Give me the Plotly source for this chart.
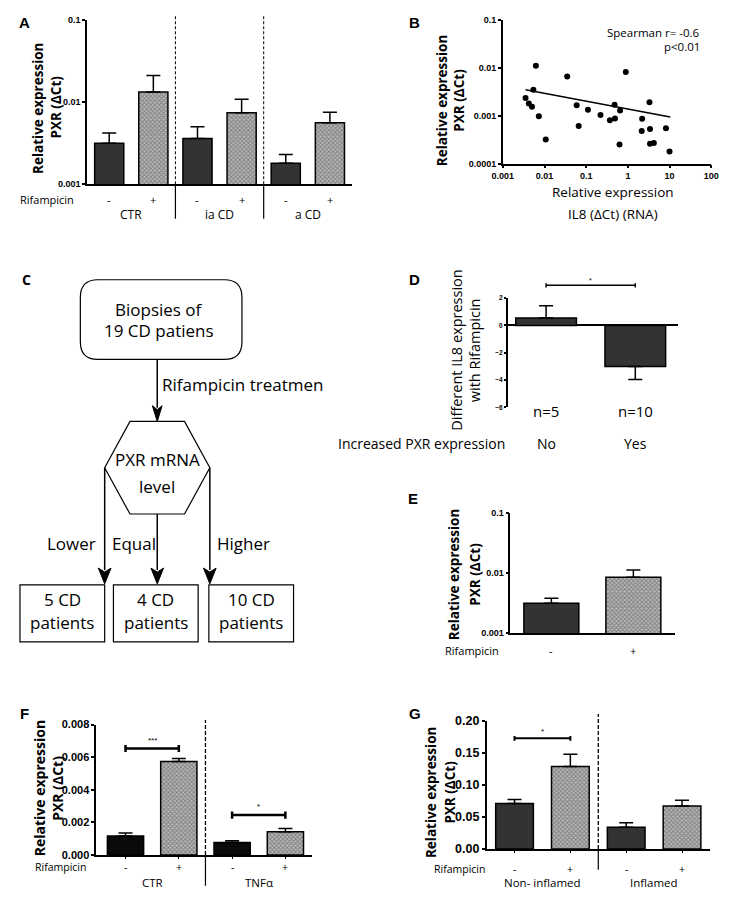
import plotly.graph_objects as go

W, H = 735, 911

# ---------------- data ----------------
rif_levels = ["-", "+"]

# Panel A
a_groups = ["CTR", "ia CD", "a CD"]
a_minus = [0.00315, 0.0036, 0.0018]
a_minus_top = [0.0042, 0.0050, 0.0023]
a_plus = [0.0133, 0.0074, 0.0056]
a_plus_top = [0.021, 0.0108, 0.0075]
log_ticks_3 = [0.001, 0.01, 0.1]
log_ticklabels_3 = ["0.001", "0.01", "0.1"]

# Panel B
b_il8 = [0.0035, 0.0042, 0.005, 0.0054, 0.0062, 0.0073, 0.0107, 0.035, 0.059, 0.066,
         0.11, 0.22, 0.37, 0.48, 0.49, 0.65, 0.63, 0.89, 2.2, 2.15,
         3.3, 3.4, 3.4, 4.2, 8.2, 10.0]
b_pxr = [0.00234, 0.0018, 0.00153, 0.0035, 0.0111, 0.00097, 0.00032, 0.0066, 0.00165, 0.00061,
         0.00134, 0.00103, 0.0008, 0.0017, 0.00087, 0.00128, 0.00025, 0.0082, 0.00086, 0.00048,
         0.0019, 0.00053, 0.00026, 0.00027, 0.00055, 0.00018]
b_fit_x = [0.0035, 10.4]
b_fit_y = [0.0035, 0.00094]
b_xticks = [0.001, 0.01, 0.1, 1, 10, 100]
b_xticklabels = ["0.001", "0.01", "0.1", "1", "10", "100"]
b_yticks = [0.0001, 0.001, 0.01, 0.1]
b_yticklabels = ["0.0001", "0.001", "0.01", "0.1"]
b_stats = ["Spearman r= -0.6", "p<0.01"]

# Panel C (flowchart)
c_start = ["Biopsies of", "19 CD patiens"]
c_step = "Rifampicin treatmen"
c_decision = ["PXR mRNA", "level"]
c_outcomes = ["Lower", "Equal", "Higher"]
c_counts = [5, 4, 10]

# Panel D
d_groups = ["No", "Yes"]
d_n = [5, 10]
d_vals = [0.55, -3.0]
d_sem = [0.89, 0.96]
d_yticks = [-6, -4, -2, 0, 2]

# Panel E
e_vals = [0.00314, 0.0085]
e_top = [0.0038, 0.0112]

# Panel F
f_groups = ["CTR", "TNFα"]
f_minus = [0.00116, 0.00077]
f_minus_top = [0.00135, 0.00088]
f_plus = [0.00574, 0.00143]
f_plus_top = [0.00592, 0.00162]
f_yticks = [0, 0.002, 0.004, 0.006, 0.008]
f_yticklabels = ["0.000", "0.002", "0.004", "0.006", "0.008"]
f_sig = ["***", "*"]

# Panel G
g_groups = ["Non- inflamed", "Inflamed"]
g_minus = [0.0712, 0.0341]
g_minus_top = [0.0772, 0.0411]
g_plus = [0.1288, 0.067]
g_plus_top = [0.148, 0.0763]
g_yticks = [0, 0.05, 0.10, 0.15, 0.20]
g_yticklabels = ["0.00", "0.05", "0.10", "0.15", "0.20"]
g_sig = ["*"]

# ---------------- helpers ----------------
# The page keeps an 8px body margin, so the figure is sized to fit inside the
# window; positions below are window pixels, mapped onto the figure's paper.
OFF = 8
FW, FH = W - 2 * OFF, H - 2 * OFF - 9
Y_SQ0, Y_SQK = 700, 0.914        # squeeze the lowest band so it stays inside the page
SANS = "Open Sans"
ARIAL = "Liberation Sans"
DARK = "#333333"
BLACK = "#0a0a0a"
BAR_LINE = dict(color="black", width=1.5)
PAT_BG = "#b9b9b9"
PATTERN = dict(shape="x", fgcolor="#454545", bgcolor=PAT_BG, size=3, solidity=0.5)


def R(py):
    return py if py <= Y_SQ0 else Y_SQ0 + (py - Y_SQ0) * Y_SQK


def X(px):
    return (px - OFF) / FW


def Y(py):
    return 1 - (R(py) - OFF) / FH


def domx(l, r):
    return [max(0, X(l)), min(1, X(r))]


def domy(t, b):
    return [max(0, Y(b)), min(1, Y(t))]


fig = go.Figure()
shapes = []
anns = []


def bar(xs, vals, tops, ax, patterned, width, color=DARK):
    if patterned:
        marker = dict(color=PAT_BG, line=BAR_LINE, pattern=PATTERN)
    else:
        marker = dict(color=color, line=BAR_LINE)
    up = [t - v for t, v in zip(tops, vals)]
    fig.add_trace(go.Bar(
        x=xs, y=vals, width=width, marker=marker,
        xaxis="x" + ax, yaxis="y" + ax, hoverinfo="skip",
        error_y=dict(type="data", symmetric=False, array=up, arrayminus=[0] * len(vals),
                     color="black", thickness=1.5, width=7),
    ))


def text(t, x, y, size=11, bold=False, xanchor="center", yanchor="middle", angle=0,
         xref="paper", family=SANS):
    anns.append(dict(
        text=t, x=(X(x) if xref == "paper" else x), xref=xref, y=Y(y), yref="paper",
        showarrow=False, xanchor=xanchor, yanchor=yanchor, textangle=angle, borderpad=0,
        font=dict(family=family, size=size, color="black",
                  weight=("bold" if bold else "normal")),
    ))


def vline(x, y0, y1, xref="paper", dash="solid", width=1.2, color="black"):
    shapes.append(dict(type="line", xref=xref, yref="paper",
                       x0=(X(x) if xref == "paper" else x), x1=(X(x) if xref == "paper" else x),
                       y0=Y(y0), y1=Y(y1), line=dict(color=color, width=width, dash=dash)))


def hline(x0, x1, y, xref="paper", width=1.5, color="black"):
    shapes.append(dict(type="line", xref=xref, yref="paper",
                       x0=(X(x0) if xref == "paper" else x0), x1=(X(x1) if xref == "paper" else x1),
                       y0=Y(y), y1=Y(y), line=dict(color=color, width=width)))


def bracket(x0, x1, ypx, half, xref, width):
    hline(x0, x1, ypx, xref=xref, width=width)
    vline(x0, ypx - half, ypx + half, xref=xref, width=width)
    vline(x1, ypx - half, ypx + half, xref=xref, width=width)


def path(cmds):
    shapes.append(dict(type="path", xref="paper", yref="paper", path=cmds,
                       line=dict(color="black", width=1.2), fillcolor="rgba(0,0,0,0)"))


def pt(x, y):
    return f"{X(x):.5f},{Y(y):.5f}"


def arrow(x, y0, y1, hw, hh):
    vline(x, y0, y1 - hh + 2, width=1.5)
    shapes.append(dict(type="path", xref="paper", yref="paper",
                       path=f"M {pt(x, y1)} L {pt(x - hw, y1 - hh)} L {pt(x, y1 - hh + 4)} L {pt(x + hw, y1 - hh)} Z",
                       line=dict(color="black", width=1), fillcolor="black"))


def axstyle(**kw):
    base = dict(showline=True, linecolor="black", linewidth=1.5, showgrid=False, zeroline=False,
                ticks="outside", ticklen=3, tickwidth=1.5, tickcolor="black",
                tickfont=dict(family=ARIAL, size=9, color="black", weight="bold"),
                fixedrange=True)
    base.update(kw)
    return base


def xcat(rng, dom, anchor, tickvals=None):
    return axstyle(range=rng, domain=dom, anchor=anchor, showticklabels=False,
                   tickvals=tickvals if tickvals is not None else [],
                   ticks="outside" if tickvals is not None else "", ticklen=2, tickwidth=1)


layout = {}

# ---------------- Panel A ----------------
a_xm = [2 * i + 0.5 for i in range(len(a_groups))]
a_xp = [2 * i + 1.5 for i in range(len(a_groups))]
bar(a_xm, a_minus, a_minus_top, "", False, 0.66)
bar(a_xp, a_plus, a_plus_top, "", True, 0.66)
layout["xaxis"] = xcat([0, 6], domx(78, 350), "y")
layout["yaxis"] = axstyle(type="log", range=[-3, -1], domain=domy(13, 180), anchor="x",
                          tickvals=log_ticks_3, ticktext=log_ticklabels_3)
for sep in (2, 4):
    vline(sep, 180, 8, xref="x", dash="3px,2px", width=1)
    vline(sep, 180, 215, xref="x", width=1.2)
text("Rifampicin", 37, 195, size=11)
for i, g in enumerate(a_groups):
    text(rif_levels[0], a_xm[i], 195, size=11, xref="x")
    text(rif_levels[1], a_xp[i], 195, size=11, xref="x")
    text(g, 2 * i + 1, 211, size=12, xref="x")
text("Relative expression", 27, 102, size=13.5, bold=True, angle=-90)
text("PXR (ΔCt)", 45, 102, size=13.5, bold=True, angle=-90)
text("A", 14, 16, size=15, bold=True, family=ARIAL)

# ---------------- Panel B ----------------
fig.add_trace(go.Scatter(x=b_il8, y=b_pxr, mode="markers", xaxis="x2", yaxis="y2",
                         marker=dict(color="black", size=6), hoverinfo="skip"))
fig.add_trace(go.Scatter(x=b_fit_x, y=b_fit_y, mode="lines", xaxis="x2", yaxis="y2",
                         line=dict(color="black", width=1.5), hoverinfo="skip"))
layout["xaxis2"] = axstyle(type="log", range=[-3, 2], domain=domx(505, 719), anchor="y2",
                           tickvals=b_xticks, ticktext=b_xticklabels)
layout["yaxis2"] = axstyle(type="log", range=[-4, -1], domain=domy(13, 159), anchor="x2",
                           tickvals=b_yticks, ticktext=b_yticklabels)
text(b_stats[0], 708, 26, size=11.5, xanchor="right")
text(b_stats[1], 708, 40, size=11.5, xanchor="right")
text("Relative expression", 618, 188, size=13.5)
text("IL8 (ΔCt) (RNA)", 618, 210, size=13.5)
text("Relative expression", 442, 95, size=13.5, bold=True, angle=-90)
text("PXR (ΔCt)", 460, 95, size=13.5, bold=True, angle=-90)
text("B", 414, 16, size=15, bold=True, family=ARIAL)

# ---------------- Panel C (flowchart) ----------------
x0, x1, y0, y1, r = 71, 237, 277, 358, 18
path(f"M {pt(x0 + r, y0)} L {pt(x1 - r, y0)} Q {pt(x1, y0)} {pt(x1, y0 + r)} "
     f"L {pt(x1, y1 - r)} Q {pt(x1, y1)} {pt(x1 - r, y1)} L {pt(x0 + r, y1)} "
     f"Q {pt(x0, y1)} {pt(x0, y1 - r)} L {pt(x0, y0 + r)} Q {pt(x0, y0)} {pt(x0 + r, y0)} Z")
text(c_start[0], 152, 307, size=17)
text(c_start[1], 152, 329, size=17)
arrow(150, 358, 421, 5, 16)
text(c_step, 154, 383, size=17, xanchor="left")
hexl, hexr, hxt, hxb = 96, 204, 421, 515
path(f"M {pt(122, hxt)} L {pt(178, hxt)} L {pt(hexr, 468)} L {pt(178, hxb)} "
     f"L {pt(122, hxb)} L {pt(hexl, 468)} Z")
text(c_decision[0], 150, 460, size=17)
text(c_decision[1], 150, 487, size=17)
arrow(hexl, 468, 586, 6.5, 16)
arrow(150, hxb, 586, 6.5, 16)
arrow(hexr, 468, 586, 6.5, 16)
text(c_outcomes[0], 62, 545, size=17)
text(c_outcomes[1], 102, 545, size=17, xanchor="left")
text(c_outcomes[2], 239, 545, size=17)
boxes = [(9, 96), (105, 192), (203, 290)]
for (bx0, bx1), n in zip(boxes, c_counts):
    shapes.append(dict(type="rect", xref="paper", yref="paper", x0=X(bx0), x1=X(bx1),
                       y0=Y(645), y1=Y(587), line=dict(color="black", width=1.2)))
    text(f"{n} CD", (bx0 + bx1) / 2, 602, size=17)
    text("patients", (bx0 + bx1) / 2, 625, size=17)
text("C", 16, 277, size=14, bold=True)

# ---------------- Panel D ----------------
d_x = list(range(len(d_groups)))
fig.add_trace(go.Bar(
    x=d_x, y=d_vals, width=0.68, marker=dict(color=DARK, line=BAR_LINE),
    xaxis="x3", yaxis="y3", hoverinfo="skip",
    error_y=dict(type="data", symmetric=False,
                 array=[s if v > 0 else 0 for v, s in zip(d_vals, d_sem)],
                 arrayminus=[s if v < 0 else 0 for v, s in zip(d_vals, d_sem)],
                 color="black", thickness=1.5, width=7),
))
layout["xaxis3"] = axstyle(range=[-0.43, 1.48], domain=domx(510, 685), anchor="y3",
                           showline=False, showticklabels=False, ticks="")
layout["yaxis3"] = axstyle(range=[-6, 2], domain=domy(295.7, 406.7), anchor="x3",
                           tickvals=d_yticks, zeroline=True, zerolinecolor="black",
                           zerolinewidth=1.5, ticklen=2,
                           tickfont=dict(family=ARIAL, size=6.5, color="black", weight="bold"))
bracket(0, 1, 282.7, 2.2, "x3", 1.5)
text("*", 0.5, 278, size=7, xref="x3", family=ARIAL)
for i, (g, n) in enumerate(zip(d_groups, d_n)):
    text(f"n={n}", d_x[i], 410, size=15, xref="x3")
    text(g, d_x[i], 443, size=14, xref="x3")
text("Increased PXR expression", 508, 443, size=14, xanchor="right")
text("Different IL8 expression", 458, 349, size=14.5, angle=-90)
text("with Rifampicin", 476, 349, size=14.5, angle=-90)
text("D", 414, 277, size=15, bold=True, family=ARIAL)

# ---------------- Panel E ----------------
bar([0], e_vals[:1], e_top[:1], "4", False, 0.67)
bar([1], e_vals[1:], e_top[1:], "4", True, 0.67)
layout["xaxis4"] = xcat([-0.5, 1.51], domx(512.7, 682), "y4")
layout["yaxis4"] = axstyle(type="log", range=[-3, -1], domain=domy(514, 636), anchor="x4",
                           tickvals=log_ticks_3, ticktext=log_ticklabels_3)
text("Rifampicin", 473, 654, size=11)
text(rif_levels[0], 0, 654, size=11, xref="x4")
text(rif_levels[1], 1, 654, size=11, xref="x4")
text("Relative expression", 455, 576, size=13.5, bold=True, angle=-90)
text("PXR (ΔCt)", 476, 576, size=13.5, bold=True, angle=-90)
text("E", 413, 499, size=15, bold=True, family=ARIAL)

# ---------------- Panel F ----------------
f_xm = [2 * i + 0.5 for i in range(len(f_groups))]
f_xp = [2 * i + 1.5 for i in range(len(f_groups))]
bar(f_xm, f_minus, f_minus_top, "5", False, 0.68, color=BLACK)
bar(f_xp, f_plus, f_plus_top, "5", True, 0.68)
layout["xaxis5"] = xcat([-0.05, 4.0], domx(87.3, 309), "y5", tickvals=f_xm + f_xp)
layout["yaxis5"] = axstyle(range=[0, 0.008], domain=domy(731.7, 876.7), anchor="x5",
                           tickvals=f_yticks, ticktext=f_yticklabels,
                           tickfont=dict(family=ARIAL, size=11, color="black", weight="bold"))
vline(2, 876.7, 726.7, xref="x5", dash="4px,2px", width=1.3)
vline(2, 876.7, 911, xref="x5", width=1.2)
bracket(f_xm[0], f_xp[0], 758.3, 4, "x5", 2.5)
bracket(f_xm[1], f_xp[1], 832.3, 4, "x5", 2.5)
text(f_sig[0], 1.0, 749, size=8, xref="x5", family=ARIAL)
text(f_sig[1], 3.0, 823, size=8, xref="x5", family=ARIAL)
text("Rifampicin", 51, 890, size=10.5)
for i, g in enumerate(f_groups):
    text(rif_levels[0], f_xm[i], 890, size=10.5, xref="x5")
    text(rif_levels[1], f_xp[i], 890, size=10.5, xref="x5")
    text(g, 2 * i + 1, 906.7, size=11.5, xref="x5")
text("Relative expression", 29, 802, size=14, bold=True, angle=-90)
text("PXR (ΔCt)", 48, 802, size=14, bold=True, angle=-90)
text("F", 14, 719, size=15, bold=True, family=ARIAL)

# ---------------- Panel G ----------------
g_xm = [2 * i + 0.5 for i in range(len(g_groups))]
g_xp = [2 * i + 1.5 for i in range(len(g_groups))]
bar(g_xm, g_minus, g_minus_top, "6", False, 0.675)
bar(g_xp, g_plus, g_plus_top, "6", True, 0.675)
layout["xaxis6"] = xcat([0, 4], domx(488.3, 717.7), "y6", tickvals=g_xm + g_xp)
layout["yaxis6"] = axstyle(range=[0, 0.2], domain=domy(727.7, 870), anchor="x6",
                           tickvals=g_yticks, ticktext=g_yticklabels,
                           tickfont=dict(family=ARIAL, size=12.5, color="black", weight="bold"))
vline(2, 870, 720, xref="x6", dash="4px,2px", width=1.3)
vline(2, 870, 893, xref="x6", width=1.2)
bracket(g_xm[0], g_xp[0], 747, 2.7, "x6", 2)
text(g_sig[0], 1.0, 739, size=8, xref="x6", family=ARIAL)
text("Rifampicin", 460.5, 891.7, size=10.5)
for i, g in enumerate(g_groups):
    text(rif_levels[0], g_xm[i], 891.7, size=10.5, xref="x6")
    text(rif_levels[1], g_xp[i], 891.7, size=10.5, xref="x6")
    text(g, 2 * i + 1, 906.7, size=11.5, xref="x6")
text("Relative expression", 432, 807, size=13.5, bold=True, angle=-90)
text("PXR (ΔCt)", 451, 807, size=13.5, bold=True, angle=-90)
text("G", 415, 719, size=15, bold=True, family=ARIAL)

fig.update_layout(
    width=FW, height=FH, margin=dict(l=0, r=0, t=0, b=0),
    paper_bgcolor="white", plot_bgcolor="rgba(0,0,0,0)",
    showlegend=False, barmode="overlay",
    shapes=shapes, annotations=anns, **layout,
)

fig.write_html("out.html", include_plotlyjs=True, config={"displayModeBar": False})
